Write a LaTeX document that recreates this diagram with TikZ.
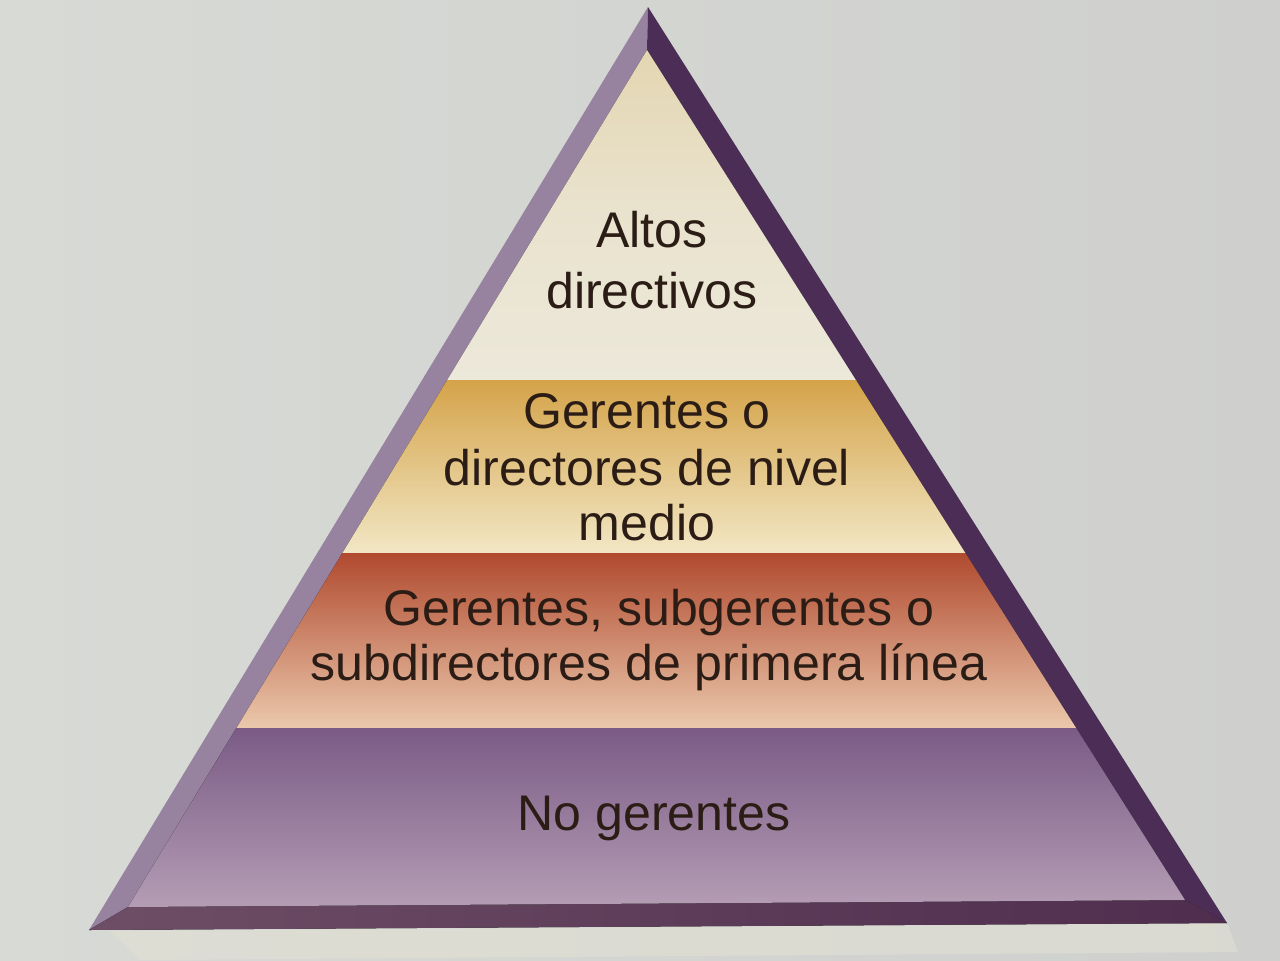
\documentclass[tikz,border=0pt]{standalone}
\usepackage{fontspec}
\setmainfont{Liberation Sans}
\definecolor{bgL}{HTML}{D7DAD5}
\definecolor{bgR}{HTML}{CFD0CE}
\definecolor{shadowc}{HTML}{E2E0D4}
\definecolor{bevL}{HTML}{9783A0}
\definecolor{bevR}{HTML}{4B2D55}
\definecolor{bevBL}{HTML}{6E4D66}
\definecolor{bevBR}{HTML}{4E2D4E}
\definecolor{creamT}{HTML}{E3D5B0}
\definecolor{creamB}{HTML}{ECE8DA}
\definecolor{goldT}{HTML}{D4A349}
\definecolor{goldB}{HTML}{F2E7C5}
\definecolor{redT}{HTML}{B04A2F}
\definecolor{redB}{HTML}{EBC8AC}
\definecolor{purT}{HTML}{7B5B86}
\definecolor{purB}{HTML}{B59EB5}
\definecolor{txt}{HTML}{2B1D15}
\begin{document}
\begin{tikzpicture}[x=0.02cm,y=-0.02cm,
  lbl/.style={anchor=base,inner sep=0pt,text=txt,font=\fontsize{28.5}{34}\selectfont}]
\useasboundingbox (0,0) rectangle (1280,960);
\fill[left color=bgL,right color=bgR] (0,0) rectangle (1280,960);
% light shadow under the pyramid
\fill[shadowc,opacity=0.6] (110,931) -- (1227,923) -- (1238,952) -- (140,960) -- cycle;
% corners
\coordinate (A) at (648,7);
\coordinate (BL) at (89,930);
\coordinate (BR) at (1227,923);
\coordinate (a) at (647,50);
\coordinate (bl) at (128,907);
\coordinate (br) at (1185,900);
% bevels
\fill[bevL] (A) -- (a) -- (bl) -- (BL) -- cycle;
\fill[bevR] (A) -- (BR) -- (br) -- (a) -- cycle;
\fill[left color=bevBL,right color=bevBR] (BL) -- (bl) -- (br) -- (BR) -- cycle;
% bands
\begin{scope}
\clip (a) -- (bl) -- (br) -- cycle;
\fill[top color=creamT,bottom color=creamB,middle color=creamB!70!creamT] (100,40) rectangle (1200,380);
\fill[top color=goldT,bottom color=goldB] (100,380) rectangle (1200,553);
\fill[top color=redT,bottom color=redB] (100,553) rectangle (1200,728);
\fill[top color=purT,bottom color=purB] (100,728) rectangle (1200,910);
\end{scope}
% labels
\node[lbl] (t1) at (652,247) {Altos};
\node[lbl] (t2) at (652,308) {directivos};
\node[lbl] (m1) at (647,428) {Gerentes o};
\node[lbl] (m2) at (647,485) {directores de nivel};
\node[lbl] (m3) at (647,540) {medio};
\node[lbl] (f1) at (659,625) {Gerentes, subgerentes o};
\node[lbl] (f2) at (649,680) {subdirectores de primera línea};
\node[lbl] (n1) at (654,830) {No gerentes};
\end{tikzpicture}
\end{document}
